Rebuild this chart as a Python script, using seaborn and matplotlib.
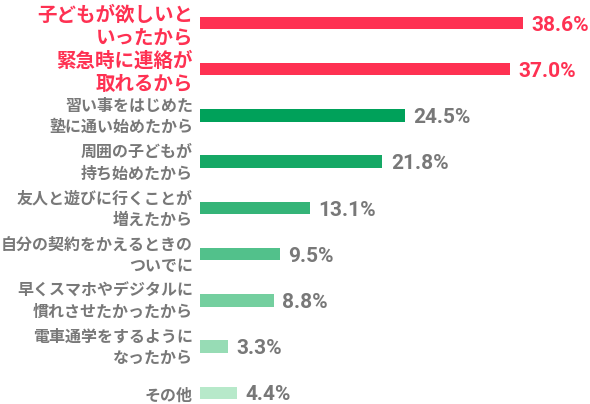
import matplotlib
matplotlib.use("Agg")
import matplotlib.pyplot as plt
import matplotlib.transforms as mtransforms
import seaborn as sns

# データ
labels = [
    "子どもが欲しいと\nいったから",
    "緊急時に連絡が\n取れるから",
    "習い事をはじめた\n塾に通い始めたから",
    "周囲の子どもが\n持ち始めたから",
    "友人と遊びに行くことが\n増えたから",
    "自分の契約をかえるときの\nついでに",
    "早くスマホやデジタルに\n慣れさせたかったから",
    "電車通学をするように\nなったから",
    "その他",
]
values = [38.6, 37.0, 24.5, 21.8, 13.1, 9.5, 8.8, 3.3, 4.4]
value_labels = ["38.6%", "37.0%", "24.5%", "21.8%", "13.1%", "9.5%", "8.8%", "3.3%", "4.4%"]
highlight = [True, True, False, False, False, False, False, False, False]

red = "#fe3152"
grey = "#787878"
bar_colors = [red, red, "#00a15a", "#15a865", "#35b478", "#52c18b",
              "#74cf9f", "#97dcb5", "#b7e9ca"]

sns.set_theme(style="white")
plt.rcParams["font.family"] = ["Noto Sans CJK JP", "DejaVu Sans"]

fig = plt.figure(figsize=(5.9, 4.04), dpi=100)
ax = fig.add_axes([200 / 590, 0, 390 / 590, 1])

sns.barplot(x=values, y=labels, hue=labels, palette=bar_colors, legend=False,
            orient="h", width=0.27, linewidth=0, saturation=1, ax=ax)

ax.set_xlim(0, 46.6)
ax.set_ylim(8.24, -0.497)
for s in ax.spines.values():
    s.set_visible(False)
ax.set_xticks([])
ax.set_yticks([])
ax.set_xlabel("")
ax.set_ylabel("")

# 項目ラベル（左側）
trans = mtransforms.blended_transform_factory(ax.transAxes, ax.transData)
trans = trans + mtransforms.ScaledTranslation(-7 / 100, 0, fig.dpi_scale_trans)
for i, (lab, hl) in enumerate(zip(labels, highlight)):
    one_line = "\n" not in lab
    if hl:
        ax.text(0, i + 0.08, lab, transform=trans, ha="right", va="center",
                fontsize=14, fontweight="bold", color=red, linespacing=1.3,
                clip_on=False)
    else:
        ax.text(0, i + (0.07 if one_line else 0.02), lab, transform=trans,
                ha="right", va="center", fontsize=11.5, fontweight="bold",
                color=grey, linespacing=1.4, clip_on=False)

# 値ラベル（右側）
for i, (v, t, hl) in enumerate(zip(values, value_labels, highlight)):
    ax.annotate(t, xy=(v, i), xytext=(6, -1.5), textcoords="offset points",
                ha="left", va="center", fontsize=15, fontweight="bold",
                family=["Liberation Sans Narrow", "Roboto"],
                color=red if hl else grey)

fig.savefig("out.png", dpi=100)
